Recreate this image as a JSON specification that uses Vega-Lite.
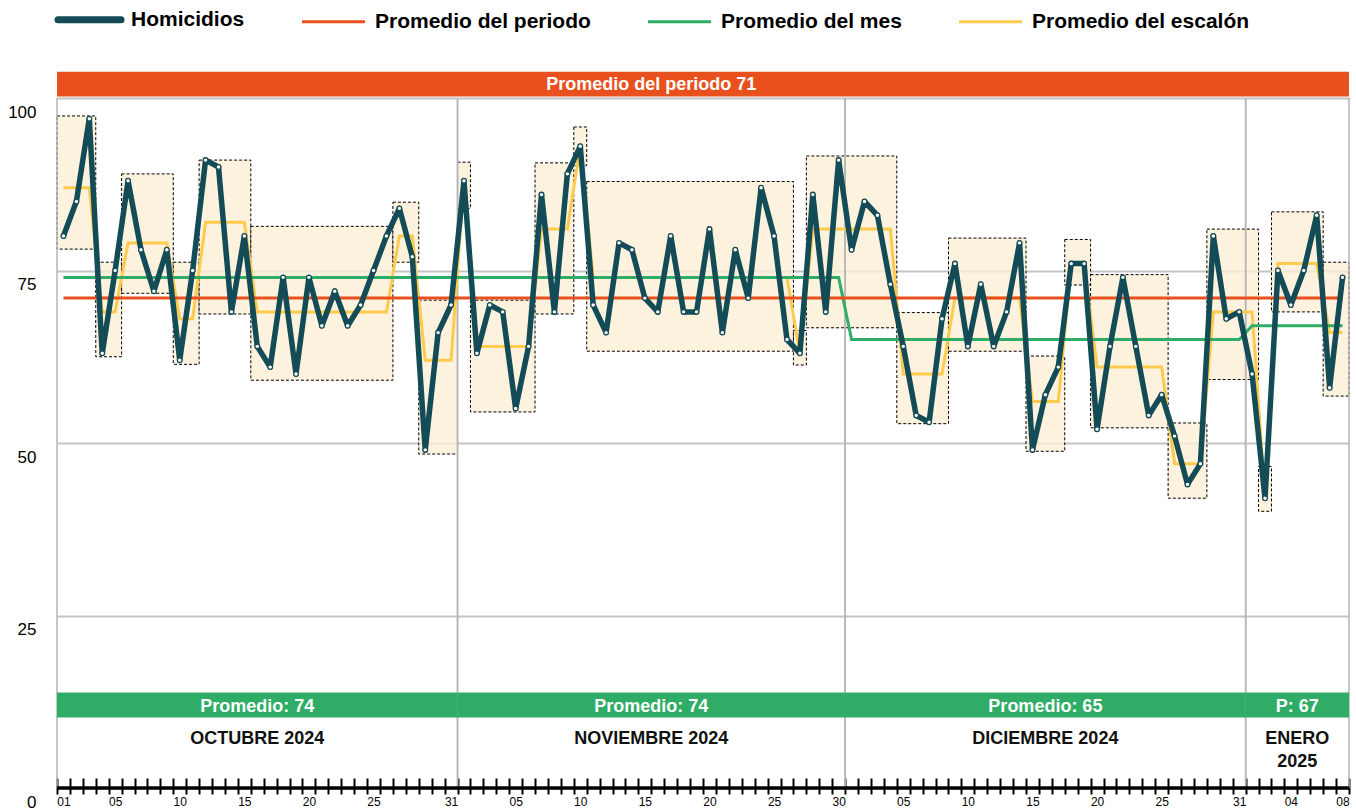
{
  "$schema": "https://vega.github.io/schema/vega-lite/v6.json",
  "width": 1292,
  "height": 690,
  "autosize": {"type": "none"},
  "padding": {"left": 57, "top": 98, "right": 7, "bottom": 21},
  "background": "white",
  "config": {"font": "Liberation Sans", "view": {"stroke": null}},
  "datasets": {
    "dias": [
      {"fecha":"2024-10-01","homicidios":80,"escalon":87,"promedioMes":74,"promedioPeriodo":71},
      {"fecha":"2024-10-02","homicidios":85,"escalon":87,"promedioMes":74,"promedioPeriodo":71},
      {"fecha":"2024-10-03","homicidios":97,"escalon":87,"promedioMes":74,"promedioPeriodo":71},
      {"fecha":"2024-10-04","homicidios":63,"escalon":69,"promedioMes":74,"promedioPeriodo":71},
      {"fecha":"2024-10-05","homicidios":75,"escalon":69,"promedioMes":74,"promedioPeriodo":71},
      {"fecha":"2024-10-06","homicidios":88,"escalon":79,"promedioMes":74,"promedioPeriodo":71},
      {"fecha":"2024-10-07","homicidios":78,"escalon":79,"promedioMes":74,"promedioPeriodo":71},
      {"fecha":"2024-10-08","homicidios":72,"escalon":79,"promedioMes":74,"promedioPeriodo":71},
      {"fecha":"2024-10-09","homicidios":78,"escalon":79,"promedioMes":74,"promedioPeriodo":71},
      {"fecha":"2024-10-10","homicidios":62,"escalon":68,"promedioMes":74,"promedioPeriodo":71},
      {"fecha":"2024-10-11","homicidios":75,"escalon":68,"promedioMes":74,"promedioPeriodo":71},
      {"fecha":"2024-10-12","homicidios":91,"escalon":82,"promedioMes":74,"promedioPeriodo":71},
      {"fecha":"2024-10-13","homicidios":90,"escalon":82,"promedioMes":74,"promedioPeriodo":71},
      {"fecha":"2024-10-14","homicidios":69,"escalon":82,"promedioMes":74,"promedioPeriodo":71},
      {"fecha":"2024-10-15","homicidios":80,"escalon":82,"promedioMes":74,"promedioPeriodo":71},
      {"fecha":"2024-10-16","homicidios":64,"escalon":69,"promedioMes":74,"promedioPeriodo":71},
      {"fecha":"2024-10-17","homicidios":61,"escalon":69,"promedioMes":74,"promedioPeriodo":71},
      {"fecha":"2024-10-18","homicidios":74,"escalon":69,"promedioMes":74,"promedioPeriodo":71},
      {"fecha":"2024-10-19","homicidios":60,"escalon":69,"promedioMes":74,"promedioPeriodo":71},
      {"fecha":"2024-10-20","homicidios":74,"escalon":69,"promedioMes":74,"promedioPeriodo":71},
      {"fecha":"2024-10-21","homicidios":67,"escalon":69,"promedioMes":74,"promedioPeriodo":71},
      {"fecha":"2024-10-22","homicidios":72,"escalon":69,"promedioMes":74,"promedioPeriodo":71},
      {"fecha":"2024-10-23","homicidios":67,"escalon":69,"promedioMes":74,"promedioPeriodo":71},
      {"fecha":"2024-10-24","homicidios":70,"escalon":69,"promedioMes":74,"promedioPeriodo":71},
      {"fecha":"2024-10-25","homicidios":75,"escalon":69,"promedioMes":74,"promedioPeriodo":71},
      {"fecha":"2024-10-26","homicidios":80,"escalon":69,"promedioMes":74,"promedioPeriodo":71},
      {"fecha":"2024-10-27","homicidios":84,"escalon":80,"promedioMes":74,"promedioPeriodo":71},
      {"fecha":"2024-10-28","homicidios":77,"escalon":80,"promedioMes":74,"promedioPeriodo":71},
      {"fecha":"2024-10-29","homicidios":49,"escalon":62,"promedioMes":74,"promedioPeriodo":71},
      {"fecha":"2024-10-30","homicidios":66,"escalon":62,"promedioMes":74,"promedioPeriodo":71},
      {"fecha":"2024-10-31","homicidios":70,"escalon":62,"promedioMes":74,"promedioPeriodo":71},
      {"fecha":"2024-11-01","homicidios":88,"escalon":88,"promedioMes":74,"promedioPeriodo":71},
      {"fecha":"2024-11-02","homicidios":63,"escalon":64,"promedioMes":74,"promedioPeriodo":71},
      {"fecha":"2024-11-03","homicidios":70,"escalon":64,"promedioMes":74,"promedioPeriodo":71},
      {"fecha":"2024-11-04","homicidios":69,"escalon":64,"promedioMes":74,"promedioPeriodo":71},
      {"fecha":"2024-11-05","homicidios":55,"escalon":64,"promedioMes":74,"promedioPeriodo":71},
      {"fecha":"2024-11-06","homicidios":64,"escalon":64,"promedioMes":74,"promedioPeriodo":71},
      {"fecha":"2024-11-07","homicidios":86,"escalon":81,"promedioMes":74,"promedioPeriodo":71},
      {"fecha":"2024-11-08","homicidios":69,"escalon":81,"promedioMes":74,"promedioPeriodo":71},
      {"fecha":"2024-11-09","homicidios":89,"escalon":81,"promedioMes":74,"promedioPeriodo":71},
      {"fecha":"2024-11-10","homicidios":93,"escalon":93,"promedioMes":74,"promedioPeriodo":71},
      {"fecha":"2024-11-11","homicidios":70,"escalon":74,"promedioMes":74,"promedioPeriodo":71},
      {"fecha":"2024-11-12","homicidios":66,"escalon":74,"promedioMes":74,"promedioPeriodo":71},
      {"fecha":"2024-11-13","homicidios":79,"escalon":74,"promedioMes":74,"promedioPeriodo":71},
      {"fecha":"2024-11-14","homicidios":78,"escalon":74,"promedioMes":74,"promedioPeriodo":71},
      {"fecha":"2024-11-15","homicidios":71,"escalon":74,"promedioMes":74,"promedioPeriodo":71},
      {"fecha":"2024-11-16","homicidios":69,"escalon":74,"promedioMes":74,"promedioPeriodo":71},
      {"fecha":"2024-11-17","homicidios":80,"escalon":74,"promedioMes":74,"promedioPeriodo":71},
      {"fecha":"2024-11-18","homicidios":69,"escalon":74,"promedioMes":74,"promedioPeriodo":71},
      {"fecha":"2024-11-19","homicidios":69,"escalon":74,"promedioMes":74,"promedioPeriodo":71},
      {"fecha":"2024-11-20","homicidios":81,"escalon":74,"promedioMes":74,"promedioPeriodo":71},
      {"fecha":"2024-11-21","homicidios":66,"escalon":74,"promedioMes":74,"promedioPeriodo":71},
      {"fecha":"2024-11-22","homicidios":78,"escalon":74,"promedioMes":74,"promedioPeriodo":71},
      {"fecha":"2024-11-23","homicidios":71,"escalon":74,"promedioMes":74,"promedioPeriodo":71},
      {"fecha":"2024-11-24","homicidios":87,"escalon":74,"promedioMes":74,"promedioPeriodo":71},
      {"fecha":"2024-11-25","homicidios":80,"escalon":74,"promedioMes":74,"promedioPeriodo":71},
      {"fecha":"2024-11-26","homicidios":65,"escalon":74,"promedioMes":74,"promedioPeriodo":71},
      {"fecha":"2024-11-27","homicidios":63,"escalon":63,"promedioMes":74,"promedioPeriodo":71},
      {"fecha":"2024-11-28","homicidios":86,"escalon":81,"promedioMes":74,"promedioPeriodo":71},
      {"fecha":"2024-11-29","homicidios":69,"escalon":81,"promedioMes":74,"promedioPeriodo":71},
      {"fecha":"2024-11-30","homicidios":91,"escalon":81,"promedioMes":74,"promedioPeriodo":71},
      {"fecha":"2024-12-01","homicidios":78,"escalon":81,"promedioMes":65,"promedioPeriodo":71},
      {"fecha":"2024-12-02","homicidios":85,"escalon":81,"promedioMes":65,"promedioPeriodo":71},
      {"fecha":"2024-12-03","homicidios":83,"escalon":81,"promedioMes":65,"promedioPeriodo":71},
      {"fecha":"2024-12-04","homicidios":73,"escalon":81,"promedioMes":65,"promedioPeriodo":71},
      {"fecha":"2024-12-05","homicidios":64,"escalon":60,"promedioMes":65,"promedioPeriodo":71},
      {"fecha":"2024-12-06","homicidios":54,"escalon":60,"promedioMes":65,"promedioPeriodo":71},
      {"fecha":"2024-12-07","homicidios":53,"escalon":60,"promedioMes":65,"promedioPeriodo":71},
      {"fecha":"2024-12-08","homicidios":68,"escalon":60,"promedioMes":65,"promedioPeriodo":71},
      {"fecha":"2024-12-09","homicidios":76,"escalon":71,"promedioMes":65,"promedioPeriodo":71},
      {"fecha":"2024-12-10","homicidios":64,"escalon":71,"promedioMes":65,"promedioPeriodo":71},
      {"fecha":"2024-12-11","homicidios":73,"escalon":71,"promedioMes":65,"promedioPeriodo":71},
      {"fecha":"2024-12-12","homicidios":64,"escalon":71,"promedioMes":65,"promedioPeriodo":71},
      {"fecha":"2024-12-13","homicidios":69,"escalon":71,"promedioMes":65,"promedioPeriodo":71},
      {"fecha":"2024-12-14","homicidios":79,"escalon":71,"promedioMes":65,"promedioPeriodo":71},
      {"fecha":"2024-12-15","homicidios":49,"escalon":56,"promedioMes":65,"promedioPeriodo":71},
      {"fecha":"2024-12-16","homicidios":57,"escalon":56,"promedioMes":65,"promedioPeriodo":71},
      {"fecha":"2024-12-17","homicidios":61,"escalon":56,"promedioMes":65,"promedioPeriodo":71},
      {"fecha":"2024-12-18","homicidios":76,"escalon":76,"promedioMes":65,"promedioPeriodo":71},
      {"fecha":"2024-12-19","homicidios":76,"escalon":76,"promedioMes":65,"promedioPeriodo":71},
      {"fecha":"2024-12-20","homicidios":52,"escalon":61,"promedioMes":65,"promedioPeriodo":71},
      {"fecha":"2024-12-21","homicidios":64,"escalon":61,"promedioMes":65,"promedioPeriodo":71},
      {"fecha":"2024-12-22","homicidios":74,"escalon":61,"promedioMes":65,"promedioPeriodo":71},
      {"fecha":"2024-12-23","homicidios":64,"escalon":61,"promedioMes":65,"promedioPeriodo":71},
      {"fecha":"2024-12-24","homicidios":54,"escalon":61,"promedioMes":65,"promedioPeriodo":71},
      {"fecha":"2024-12-25","homicidios":57,"escalon":61,"promedioMes":65,"promedioPeriodo":71},
      {"fecha":"2024-12-26","homicidios":51,"escalon":47,"promedioMes":65,"promedioPeriodo":71},
      {"fecha":"2024-12-27","homicidios":44,"escalon":47,"promedioMes":65,"promedioPeriodo":71},
      {"fecha":"2024-12-28","homicidios":47,"escalon":47,"promedioMes":65,"promedioPeriodo":71},
      {"fecha":"2024-12-29","homicidios":80,"escalon":69,"promedioMes":65,"promedioPeriodo":71},
      {"fecha":"2024-12-30","homicidios":68,"escalon":69,"promedioMes":65,"promedioPeriodo":71},
      {"fecha":"2024-12-31","homicidios":69,"escalon":69,"promedioMes":65,"promedioPeriodo":71},
      {"fecha":"2025-01-01","homicidios":60,"escalon":69,"promedioMes":67,"promedioPeriodo":71},
      {"fecha":"2025-01-02","homicidios":42,"escalon":42,"promedioMes":67,"promedioPeriodo":71},
      {"fecha":"2025-01-03","homicidios":75,"escalon":76,"promedioMes":67,"promedioPeriodo":71},
      {"fecha":"2025-01-04","homicidios":70,"escalon":76,"promedioMes":67,"promedioPeriodo":71},
      {"fecha":"2025-01-05","homicidios":75,"escalon":76,"promedioMes":67,"promedioPeriodo":71},
      {"fecha":"2025-01-06","homicidios":83,"escalon":76,"promedioMes":67,"promedioPeriodo":71},
      {"fecha":"2025-01-07","homicidios":58,"escalon":66,"promedioMes":67,"promedioPeriodo":71},
      {"fecha":"2025-01-08","homicidios":74,"escalon":66,"promedioMes":67,"promedioPeriodo":71}
    ],
    "escalones": [
      {"desde":"2024-10-01","hasta":"2024-10-04","minimo":78.1,"maximo":97.4},
      {"desde":"2024-10-04","hasta":"2024-10-06","minimo":62.5,"maximo":76.2},
      {"desde":"2024-10-06","hasta":"2024-10-10","minimo":71.7,"maximo":89.0},
      {"desde":"2024-10-10","hasta":"2024-10-12","minimo":61.4,"maximo":76.2},
      {"desde":"2024-10-12","hasta":"2024-10-16","minimo":68.7,"maximo":91.0},
      {"desde":"2024-10-16","hasta":"2024-10-27","minimo":59.1,"maximo":81.4},
      {"desde":"2024-10-27","hasta":"2024-10-29","minimo":76.2,"maximo":84.9},
      {"desde":"2024-10-29","hasta":"2024-11-01","minimo":48.4,"maximo":70.7},
      {"desde":"2024-11-01","hasta":"2024-11-02","minimo":84.0,"maximo":90.7},
      {"desde":"2024-11-02","hasta":"2024-11-07","minimo":54.5,"maximo":70.7},
      {"desde":"2024-11-07","hasta":"2024-11-10","minimo":68.7,"maximo":90.6},
      {"desde":"2024-11-10","hasta":"2024-11-11","minimo":90.2,"maximo":95.8},
      {"desde":"2024-11-11","hasta":"2024-11-27","minimo":63.3,"maximo":87.9},
      {"desde":"2024-11-27","hasta":"2024-11-28","minimo":61.3,"maximo":66.3},
      {"desde":"2024-11-28","hasta":"2024-12-05","minimo":66.7,"maximo":91.6},
      {"desde":"2024-12-05","hasta":"2024-12-09","minimo":52.8,"maximo":68.9},
      {"desde":"2024-12-09","hasta":"2024-12-15","minimo":63.3,"maximo":79.7},
      {"desde":"2024-12-15","hasta":"2024-12-18","minimo":48.8,"maximo":62.6},
      {"desde":"2024-12-18","hasta":"2024-12-20","minimo":72.9,"maximo":79.5},
      {"desde":"2024-12-20","hasta":"2024-12-26","minimo":52.2,"maximo":74.4},
      {"desde":"2024-12-26","hasta":"2024-12-29","minimo":42.0,"maximo":52.9},
      {"desde":"2024-12-29","hasta":"2025-01-02","minimo":59.2,"maximo":81.0},
      {"desde":"2025-01-02","hasta":"2025-01-03","minimo":40.1,"maximo":46.6},
      {"desde":"2025-01-03","hasta":"2025-01-07","minimo":69.0,"maximo":83.5},
      {"desde":"2025-01-07","hasta":"2025-01-09","minimo":56.8,"maximo":76.2}
    ],
    "meses": [
      {"mes":"2024-10","inicio":"2024-10-01","fin":"2024-11-01","promedio":"Promedio: 74","nombre":"OCTUBRE 2024"},
      {"mes":"2024-11","inicio":"2024-11-01","fin":"2024-12-01","promedio":"Promedio: 74","nombre":"NOVIEMBRE 2024"},
      {"mes":"2024-12","inicio":"2024-12-01","fin":"2025-01-01","promedio":"Promedio: 65","nombre":"DICIEMBRE 2024"},
      {"mes":"2025-01","inicio":"2025-01-01","fin":"2025-01-09","promedio":"P: 67","nombre":"ENERO\n2025"}
    ],
    "periodo": [
      {"etiqueta":"Promedio del periodo 71","desde":"2024-10-01","hasta":"2025-01-09"}
    ]
  },
  "layer": [
    {
      "data": {"name": "escalones"},
      "mark": {"type": "rect", "fill": "#FCEFD5", "fillOpacity": 0.8, "stroke": "#000000", "strokeWidth": 1, "strokeDash": [3, 2]},
      "encoding": {
        "x": {
          "field": "desde", "type": "temporal",
          "scale": {"type": "utc", "nice": false, "domain": [{"year": 2024, "month": 10, "date": 1, "utc": true}, {"year": 2025, "month": 1, "date": 9, "utc": true}]},
          "axis": {
            "title": null, "domain": false, "grid": false,
            "tickCount": {"interval": "day", "step": 1},
            "tickSize": 16, "tickWidth": 2, "tickColor": "#000000", "offset": -10,
            "labelExpr": "((utcmonth(datum.value) == 9 && utcdate(datum.value) == 1) || (utcmonth(datum.value) == 0 ? (utcdate(datum.value) == 4 || utcdate(datum.value) == 8) : ((utcdate(datum.value) % 5 == 0 && (utcdate(datum.value) != 30 || utcmonth(datum.value) == 10)) || utcdate(datum.value) == 31))) ? utcFormat(datum.value, '%d') : ''",
            "labelOffset": 6.46, "labelPadding": 2, "labelFontSize": 12, "labelColor": "#000000",
            "labelFlush": false, "labelOverlap": false, "labelBound": false
          }
        },
        "x2": {"field": "hasta"},
        "y": {
          "field": "minimo", "type": "quantitative",
          "scale": {"domain": [0, 100], "nice": false, "zero": true},
          "axis": {
            "title": null, "values": [0, 25, 50, 75, 100], "grid": true, "gridColor": "#C4C4C4", "gridWidth": 2,
            "domain": false, "ticks": false, "tickSize": 0, "labelPadding": 21, "labelOffset": 14,
            "labelFontSize": 17, "labelColor": "#000000", "labelFlush": false, "labelBaseline": "middle"
          }
        },
        "y2": {"field": "maximo"}
      }
    },
    {
      "data": {"name": "meses"},
      "mark": {"type": "rule", "color": "#B5B5B5", "strokeWidth": 1.5},
      "encoding": {"x": {"field": "inicio", "type": "temporal"}}
    },
    {
      "data": {"name": "meses"},
      "mark": {"type": "rule", "color": "#B5B5B5", "strokeWidth": 1.5},
      "encoding": {"x": {"field": "fin", "type": "temporal"}}
    },
    {
      "data": {"name": "dias"},
      "mark": {"type": "line", "strokeWidth": 3},
      "encoding": {
        "x": {"field": "fecha", "type": "temporal", "timeUnit": "utcyearmonthdate", "bandPosition": 0.5},
        "y": {"field": "escalon", "type": "quantitative"},
        "color": {"datum": "Promedio del escalón"}
      }
    },
    {
      "data": {"name": "dias"},
      "mark": {"type": "line", "strokeWidth": 3},
      "encoding": {
        "x": {"field": "fecha", "type": "temporal", "timeUnit": "utcyearmonthdate", "bandPosition": 0.5},
        "y": {"field": "promedioMes", "type": "quantitative"},
        "color": {"datum": "Promedio del mes"}
      }
    },
    {
      "data": {"name": "dias"},
      "mark": {"type": "line", "strokeWidth": 3},
      "encoding": {
        "x": {"field": "fecha", "type": "temporal", "timeUnit": "utcyearmonthdate", "bandPosition": 0.5},
        "y": {"field": "promedioPeriodo", "type": "quantitative"},
        "color": {"datum": "Promedio del periodo"}
      }
    },
    {
      "data": {"name": "dias"},
      "mark": {"type": "line", "strokeWidth": 5.5, "strokeJoin": "round", "strokeCap": "round"},
      "encoding": {
        "x": {"field": "fecha", "type": "temporal", "timeUnit": "utcyearmonthdate", "bandPosition": 0.5},
        "y": {"field": "homicidios", "type": "quantitative"},
        "color": {
          "datum": "Homicidios",
          "scale": {
            "domain": ["Homicidios", "Promedio del periodo", "Promedio del mes", "Promedio del escalón"],
            "range": ["#134B57", "#E8501E", "#2FAD66", "#FFCB4C"]
          },
          "legend": {
            "orient": "none", "legendX": 22, "legendY": -89, "direction": "horizontal", "title": null,
            "symbolType": "stroke", "symbolSize": 3969, "symbolStrokeWidth": 3,
            "labelFontSize": 21, "labelFontWeight": "bold", "labelColor": "#000000", "labelOffset": 31,
            "labelLimit": 400, "columnPadding": 51, "padding": 0,
            "encode": {"symbols": {"update": {
              "strokeWidth": {"signal": "datum.value === 'Homicidios' ? 7 : 3"},
              "strokeCap": {"signal": "datum.value === 'Homicidios' ? 'round' : 'butt'"}
            }}}
          }
        }
      }
    },
    {
      "data": {"name": "dias"},
      "mark": {"type": "point", "filled": true, "fill": "#FFFFFF", "stroke": "#134B57", "strokeWidth": 1.3, "size": 22, "opacity": 1},
      "encoding": {
        "x": {"field": "fecha", "type": "temporal", "timeUnit": "utcyearmonthdate", "bandPosition": 0.5},
        "y": {"field": "homicidios", "type": "quantitative"}
      }
    },
    {
      "data": {"name": "periodo"},
      "mark": {"type": "rect", "fill": "#E8501E"},
      "encoding": {
        "x": {"field": "desde", "type": "temporal"},
        "x2": {"field": "hasta"},
        "y": {"datum": 100.2},
        "y2": {"datum": 103.8}
      }
    },
    {
      "data": {"name": "periodo"},
      "mark": {"type": "text", "color": "#FFFFFF", "fontSize": 18, "fontWeight": "bold", "baseline": "alphabetic", "align": "center"},
      "encoding": {
        "x": {"datum": {"year": 2024, "month": 11, "date": 16, "utc": true}, "type": "temporal"},
        "y": {"datum": 101.1},
        "text": {"field": "etiqueta"}
      }
    },
    {
      "data": {"name": "meses"},
      "mark": {"type": "rect", "fill": "#2FAD66"},
      "encoding": {
        "x": {"field": "inicio", "type": "temporal"},
        "x2": {"field": "fin"},
        "y": {"datum": 10.2},
        "y2": {"datum": 13.85}
      }
    },
    {
      "data": {"name": "meses", "format": {"parse": {"inicio": "date", "fin": "date"}}},
      "transform": [
        {"fold": ["inicio", "fin"], "as": ["borde", "fechaBorde"]},
        {"aggregate": [{"op": "mean", "field": "fechaBorde", "as": "centro"}], "groupby": ["mes", "promedio", "nombre"]}
      ],
      "layer": [
        {
          "mark": {"type": "text", "color": "#FFFFFF", "fontSize": 18, "fontWeight": "bold", "baseline": "alphabetic", "align": "center"},
          "encoding": {
            "x": {"field": "centro", "type": "temporal"},
            "y": {"datum": 11.06},
            "text": {"field": "promedio"}
          }
        },
        {
          "mark": {"type": "text", "color": "#111111", "fontSize": 18, "fontWeight": "bold", "baseline": "alphabetic", "align": "center", "lineBreak": "\n", "lineHeight": 22.3},
          "encoding": {
            "x": {"field": "centro", "type": "temporal"},
            "y": {"datum": 6.33},
            "text": {"field": "nombre"}
          }
        }
      ]
    },
    {
      "data": {"values": [{"base": 0}]},
      "mark": {"type": "rule", "color": "#000000", "strokeWidth": 3.5},
      "encoding": {"y": {"field": "base", "type": "quantitative"}}
    }
  ]
}
